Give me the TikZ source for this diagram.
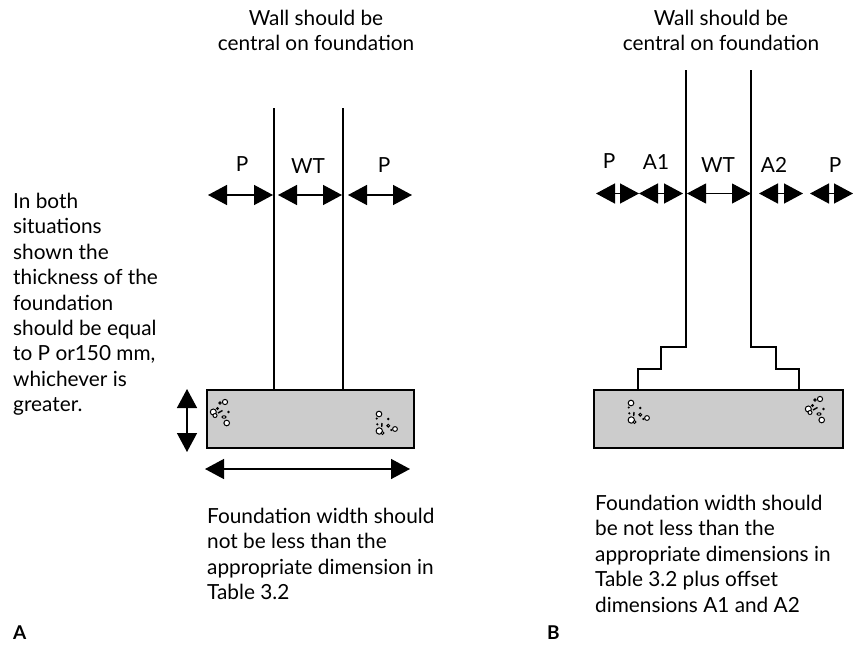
\documentclass[tikz,border=0pt]{standalone}
\usepackage{fontspec}
\setmainfont{Lato}
\usetikzlibrary{arrows.meta}

\tikzset{
  txt/.style={inner sep=0pt,align=left,anchor=north west,font=\fontsize{20.8}{25.4}\selectfont},
  dimlabel/.style={inner sep=0pt,anchor=base,font=\fontsize{20.8}{25}\selectfont},
  dimarrow/.style={line width=1.4pt,{Triangle[length=19pt,width=20pt]}-{Triangle[length=19pt,width=20pt]}},
  wall/.style={line width=1.5pt,line join=miter},
  fnd/.style={draw,line width=1.5pt,fill=black!20,inner sep=0pt,anchor=north west},
  stone/.style={draw,fill=white,line width=1pt},
  grit/.style={fill=black},
  stonesa/.pic={
    \draw[stone] (0,0) circle (2.6);
    \draw[stone] (-5,1) circle (1.2);
    \draw[stone] (-11.7,10) circle (3);
    \draw[stone] (-10,13.5) circle (2);
    \draw[stone] (-7.5,6.5) circle (1);
    \fill[grit] (3.5,10) circle (1.4);
    \draw[stone] (-1,15) ellipse (2 and 1.2);
    \draw[stone] (1.7,21) circle (2.8);
    \draw[line width=1.4pt] (-7,11) -- (-2.5,8.5);
  },
  stonesb/.pic={
    \draw[stone] (0,0) circle (2.8);
    \fill[grit] (-2.3,4.5) circle (1.2);
    \fill[grit] (9.3,5) circle (1.4);
    \draw[stone] (9.3,11.7) circle (1.4);
    \draw[stone] (16,15) circle (2.4);
    \fill[grit] (12.3,16) circle (1.2);
    \draw[stone] (0.3,17) circle (3.2);
    \draw[stone] (3.5,19) circle (1.5);
    \draw[line width=1.4pt] (2.7,13) -- (3,9);
    \fill[grit] (-1.7,10.3) circle (1.2);
  }
}

\begin{document}
\begin{tikzpicture}[x=1pt,y=-1pt]
    \useasboundingbox (0,0) rectangle (853,645);

    % foundations
    \node[fnd,minimum width=207pt,minimum height=58pt] (fndA) at (206,389) {};
    \node[fnd,minimum width=249pt,minimum height=58pt] (fndB) at (593,389) {};

    % walls
    \coordinate (wallAl) at (274,108);
    \coordinate (wallAr) at (343,108);
    \draw[wall] (wallAl) -- (wallAl |- fndA.north);
    \draw[wall] (wallAr) -- (wallAr |- fndA.north);

    \coordinate (wallBl) at (686,70);
    \coordinate (wallBr) at (751,70);
    \coordinate (stepBl) at (638,389);
    \coordinate (stepBr) at (799,389);
    \draw[wall] (wallBl) |- (661,347) |- (638,369) -- (stepBl);
    \draw[wall] (wallBr) |- (776,347) |- (799,369) -- (stepBr);

    % stones
    \pic at (225,402) {stonesa};
    \pic at (820,399) {stonesa};
    \pic at (379,414) {stonesb};
    \pic at (631,403) {stonesb};

    % dimension arrows with their labels
    \foreach \name/\xl/\xr/\ya/\xt/\yt/\lab/\lw in {
      pa/208/273/195/242/171/P/1.4, wta/278/342/195/308/173/WT/1.4, pb/348/412/195/384/172/P/1.4,
      pc/596/639/193.5/609/168/P/1.4, aa/639/683/193.5/656/169/A1/1.4, wtb/687/751/193.5/718/172/WT/1,
      ab/759/803/193.5/774/172/A2/1.4, pd/810/853/193.5/835/172/P/1.4} {
      \coordinate (\name l) at (\xl,\ya);
      \coordinate (\name r) at (\xr,\ya);
      \draw[dimarrow,line width=\lw pt] (\name l) -- (\name r);
      \node[dimlabel] (\name t) at (\xt,\yt) {\lab};
    }

    \coordinate (thkt) at (187,389);
    \coordinate (thkb) at (187,452);
    \draw[dimarrow] (thkt) -- (thkb);
    \coordinate (wdtl) at (205,469);
    \coordinate (wdtr) at (410,469);
    \draw[dimarrow] (wdtl) -- (wdtr);

    % texts
    \node[txt,align=center,anchor=north] (headA) at (316,10) {Wall should be\\central on foundation};
    \node[txt,align=center,anchor=north] (headB) at (721,10) {Wall should be\\central on foundation};
    \node[txt] (note) at (13,193) {In both\\situations\\shown the\\thickness of the\\foundation\\should be equal\\to P or150 mm,\\whichever is\\greater.};
    \node[txt] (textA) at (207,508) {Foundation width should\\not be less than the\\appropriate dimension in\\Table 3.2};
    \node[txt] (textB) at (595,495) {Foundation width should\\be not less than the\\appropriate dimensions in\\Table 3.2 plus offset\\dimensions A1 and A2};
    \node[txt,font=\fontsize{19}{22}\selectfont\bfseries] (labA) at (13,626) {A};
    \node[txt,font=\fontsize{19}{22}\selectfont\bfseries] (labB) at (547,626) {B};
\end{tikzpicture}
\end{document}
